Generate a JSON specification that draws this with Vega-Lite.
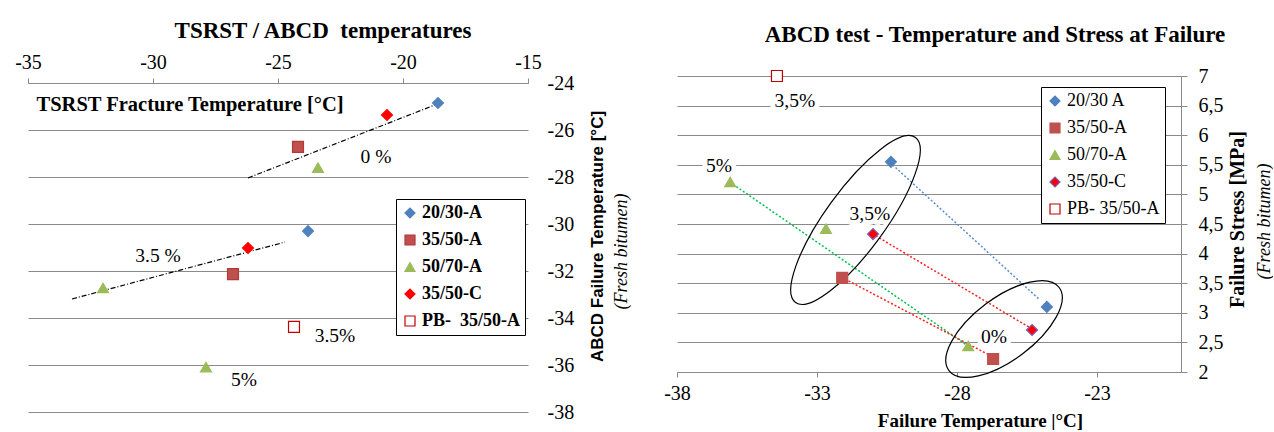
{
  "$schema": "https://vega.github.io/schema/vega-lite/v6.json",
  "padding": {"left": 14, "top": 20, "right": 0, "bottom": 0},
  "spacing": 33,
  "config": {
    "view": {"stroke": null},
    "axis": {"domainColor": "#8a8a8a", "gridColor": "#8a8a8a", "tickColor": "#8a8a8a", "labelColor": "black", "titleColor": "black", "labelFont": "Liberation Serif", "labelFontSize": 20, "labelOverlap": false, "labelFlush": false},
    "legend": {"strokeColor": "black", "fillColor": "white", "padding": 5, "labelFont": "Liberation Serif", "labelFontSize": 18, "labelColor": "black", "labelLimit": 0, "rowPadding": 9, "symbolSize": 100, "symbolStrokeWidth": 1.2, "labelOffset": 3}
  },
  "resolve": {"scale": {"fill": "independent", "stroke": "independent", "shape": "independent", "color": "independent"}, "legend": {"fill": "independent", "stroke": "independent", "shape": "independent", "color": "independent"}},
  "datasets": {
    "ptsL": [
      {"series": "20/30-A", "x": -18.6, "y": -24.85},
      {"series": "20/30-A", "x": -23.8, "y": -30.3},
      {"series": "35/50-A", "x": -24.2, "y": -26.72},
      {"series": "35/50-A", "x": -26.8, "y": -32.13},
      {"series": "50/70-A", "x": -23.4, "y": -27.6},
      {"series": "50/70-A", "x": -32.0, "y": -32.72},
      {"series": "50/70-A", "x": -27.88, "y": -36.09},
      {"series": "35/50-C", "x": -20.64, "y": -25.36},
      {"series": "35/50-C", "x": -26.2, "y": -31.02},
      {"series": "PB-\u00a0 35/50-A", "x": -24.36, "y": -34.38}
    ],
    "trendL": [
      {"trend": "0 %", "x": -26.2, "y": -28.04},
      {"trend": "0 %", "x": -18.52, "y": -24.85},
      {"trend": "3.5 %", "x": -33.24, "y": -33.19},
      {"trend": "3.5 %", "x": -24.72, "y": -30.77}
    ],
    "labelsL": [
      {"label": "0 %", "x": -21.08, "y": -27.15},
      {"label": "3.5 %", "x": -29.8, "y": -31.36},
      {"label": "3.5%", "x": -22.72, "y": -34.77},
      {"label": "5%", "x": -26.36, "y": -36.64}
    ],
    "ptsR": [
      {"series": "20/30 A", "x": -30.36, "y": 5.55},
      {"series": "20/30 A", "x": -24.79, "y": 3.1},
      {"series": "35/50-A", "x": -32.1, "y": 3.59},
      {"series": "35/50-A", "x": -26.71, "y": 2.22},
      {"series": "50/70-A", "x": -36.1, "y": 5.21},
      {"series": "50/70-A", "x": -32.68, "y": 4.42},
      {"series": "50/70-A", "x": -27.6, "y": 2.44},
      {"series": "35/50-C", "x": -31.0, "y": 4.33},
      {"series": "35/50-C", "x": -25.32, "y": 2.71},
      {"series": "PB- 35/50-A", "x": -34.43, "y": 7.0}
    ],
    "linesR": [
      {"pair": "20/30 A", "x": -30.3, "y": 5.5},
      {"pair": "20/30 A", "x": -25.07, "y": 3.23},
      {"pair": "50/70-A", "x": -36.0, "y": 5.17},
      {"pair": "50/70-A", "x": -27.7, "y": 2.47},
      {"pair": "35/50-A", "x": -32.0, "y": 3.57},
      {"pair": "35/50-A", "x": -26.9, "y": 2.3},
      {"pair": "35/50-C", "x": -30.9, "y": 4.3},
      {"pair": "35/50-C", "x": -25.4, "y": 2.75}
    ],
    "labelsR": [
      {"label": "3,5%", "x": -33.79, "y": 6.58},
      {"label": "5%", "x": -36.5, "y": 5.48},
      {"label": "3,5%", "x": -31.11, "y": 4.67},
      {"label": "0%", "x": -26.68, "y": 2.59}
    ],
    "ell1": [{"group": "3,5%", "x": -31.625, "y": 4.568}],
    "ell2": [{"group": "0%", "x": -26.32, "y": 2.726}]
  },
  "hconcat": [
    {
      "width": 500,
      "height": 336,
      "title": {"text": "TSRST / ABCD\u00a0 temperatures", "font": "Liberation Serif", "fontSize": 23, "fontWeight": "bold", "color": "black", "anchor": "middle", "dx": 45, "offset": 9},
      "layer": [
        {
          "data": {"name": "trendL"},
          "mark": {"type": "line", "color": "black", "strokeWidth": 1.2, "strokeDash": [5, 2, 1, 2]},
          "encoding": {
            "x": {"field": "x", "type": "quantitative", "scale": {"domain": [-35, -15], "zero": false, "nice": false},
              "axis": {"orient": "top", "offset": -7, "values": [-35, -30, -25, -20, -15], "labelExpr": "'' + datum.value", "labelFont": "Liberation Serif", "labelFontSize": 20, "grid": false, "tickSize": 5, "labelPadding": 6,
                "title": "TSRST Fracture Temperature [°C]", "titleFont": "Liberation Serif", "titleFontSize": 20.5, "titleFontWeight": "bold", "titleAlign": "left", "titleBaseline": "alphabetic", "titleX": 8, "titleY": 27}},
            "y": {"field": "y", "type": "quantitative", "scale": {"domain": [-38, -23.702], "zero": false, "nice": false},
              "axis": {"orient": "right", "title": "(Fresh bitumen)", "titleFont": "Liberation Serif", "titleFontStyle": "italic", "titleFontWeight": "normal", "titleFontSize": 18, "titleAngle": 270, "titleX": 93, "titleY": 175, "titleAlign": "center", "titleBaseline": "middle", "labels": false, "ticks": false, "domain": false, "grid": false}},
            "detail": {"field": "trend"}
          }
        },
        {
          "encoding": {
            "x": {"field": "x", "type": "quantitative", "scale": {"domain": [-35, -15], "zero": false, "nice": false},
              "axis": {"orient": "top", "offset": -7, "values": [-35, -30, -25, -20, -15], "labelExpr": "'' + datum.value", "labelFont": "Liberation Serif", "labelFontSize": 20, "grid": false, "tickSize": 5, "labelPadding": 6,
                "title": "TSRST Fracture Temperature [°C]", "titleFont": "Liberation Serif", "titleFontSize": 20.5, "titleFontWeight": "bold", "titleAlign": "left", "titleBaseline": "alphabetic", "titleX": 8, "titleY": 27}},
            "y": {"field": "y", "type": "quantitative", "scale": {"domain": [-38, -23.702], "zero": false, "nice": false},
              "axis": {"orient": "right", "values": [-38, -36, -34, -32, -30, -28, -26, -24], "labelExpr": "'' + datum.value", "labelFont": "Liberation Serif", "labelFontSize": 20, "grid": true, "ticks": false, "domain": false, "labelPadding": 19,
                "title": "ABCD Failure Temperature [°C]", "titleFont": "Liberation Sans", "titleFontWeight": "bold", "titleFontSize": 17, "titleAngle": 270, "titleX": 69, "titleY": 160, "titleAlign": "center", "titleBaseline": "middle"}}
          },
          "layer": [
            {
              "mark": {"type": "rule", "color": "#8a8a8a", "strokeWidth": 1},
              "encoding": {"x": {"datum": -15}, "y": {"datum": -38}, "y2": {"datum": -24}}
            },
            {
              "data": {"name": "labelsL"},
              "mark": {"type": "text", "font": "Liberation Serif", "fontSize": 19.5, "fill": "white", "stroke": "white", "strokeWidth": 10, "strokeJoin": "round"},
              "encoding": {"text": {"field": "label"}}
            },
            {
              "data": {"name": "ptsL"},
              "mark": {"type": "point", "filled": true, "size": 120, "opacity": 1, "strokeWidth": 1.2},
              "encoding": {
                "fill": {"field": "series", "type": "nominal", "scale": {"domain": ["20/30-A", "35/50-A", "50/70-A", "35/50-C", "PB-\u00a0 35/50-A"], "range": ["#4F81BD", "#C0504D", "#9BBB59", "#FF0000", "#FFFFFF"]},
                  "legend": {"title": null, "orient": "none", "legendX": 368, "legendY": 123, "labelFontWeight": "bold"}},
                "stroke": {"field": "series", "type": "nominal", "scale": {"domain": ["20/30-A", "35/50-A", "50/70-A", "35/50-C", "PB-\u00a0 35/50-A"], "range": ["#4F81BD", "#B03A37", "#9BBB59", "#FF0000", "#C00000"]}},
                "shape": {"field": "series", "type": "nominal", "scale": {"domain": ["20/30-A", "35/50-A", "50/70-A", "35/50-C", "PB-\u00a0 35/50-A"], "range": ["diamond", "square", "triangle-up", "diamond", "square"]}}
              }
            },
            {
              "data": {"name": "labelsL"},
              "mark": {"type": "text", "font": "Liberation Serif", "fontSize": 19.5, "color": "black"},
              "encoding": {"text": {"field": "label"}}
            }
          ]
        }
      ],
      "resolve": {"scale": {"y": "independent"}}
    },
    {
      "width": 504,
      "height": 296,
      "title": {"text": "ABCD test - Temperature and Stress at Failure", "font": "Liberation Serif", "fontSize": 23, "fontWeight": "bold", "color": "black", "anchor": "middle", "dx": 66, "offset": 19},
      "layer": [
        {
          "data": {"name": "linesR"},
          "mark": {"type": "line", "strokeWidth": 1.5, "strokeDash": [2, 2]},
          "encoding": {
            "x": {"field": "x", "type": "quantitative", "scale": {"domain": [-38, -20], "zero": false, "nice": false},
              "axis": {"orient": "bottom", "values": [-38, -33, -28, -23], "labelExpr": "'' + datum.value", "labelFont": "Liberation Serif", "labelFontSize": 20, "grid": false, "tickSize": 5, "labelPadding": 6,
                "title": "Failure Temperature |°C]", "titleFont": "Liberation Serif", "titleFontSize": 19, "titleFontWeight": "bold", "titleAlign": "center", "titleBaseline": "alphabetic", "titleX": 303, "titleY": 54}},
            "y": {"field": "y", "type": "quantitative", "scale": {"domain": [2, 7], "zero": false, "nice": false},
              "axis": {"orient": "right", "title": "(Fresh bitumen)", "titleFont": "Liberation Serif", "titleFontStyle": "italic", "titleFontWeight": "normal", "titleFontSize": 18, "titleAngle": 270, "titleX": 83, "titleY": 145, "titleAlign": "center", "titleBaseline": "middle", "labels": false, "ticks": false, "domain": false, "grid": false}},
            "color": {"field": "pair", "type": "nominal", "scale": {"domain": ["20/30 A", "50/70-A", "35/50-A", "35/50-C"], "range": ["#5B8BD0", "#00C050", "#FF2020", "#FF2020"]}, "legend": null},
            "detail": {"field": "pair"}
          }
        },
        {
          "encoding": {
            "x": {"field": "x", "type": "quantitative", "scale": {"domain": [-38, -20], "zero": false, "nice": false},
              "axis": {"orient": "bottom", "values": [-38, -33, -28, -23], "labelExpr": "'' + datum.value", "labelFont": "Liberation Serif", "labelFontSize": 20, "grid": false, "tickSize": 5, "labelPadding": 6,
                "title": "Failure Temperature |°C]", "titleFont": "Liberation Serif", "titleFontSize": 19, "titleFontWeight": "bold", "titleAlign": "center", "titleBaseline": "alphabetic", "titleX": 303, "titleY": 54}},
            "y": {"field": "y", "type": "quantitative", "scale": {"domain": [2, 7], "zero": false, "nice": false},
              "axis": {"orient": "right", "values": [2, 2.5, 3, 3.5, 4, 4.5, 5, 5.5, 6, 6.5, 7], "labelExpr": "replace(format(datum.value, '~g'), '.', ',')", "labelFont": "Liberation Serif", "labelFontSize": 20, "grid": true, "ticks": true, "tickSize": 6, "domain": true, "labelPadding": 11,
                "title": "Failure Stress [MPa]", "titleFont": "Liberation Serif", "titleFontWeight": "bold", "titleFontSize": 20, "titleAngle": 270, "titleX": 56, "titleY": 143, "titleAlign": "center", "titleBaseline": "middle"}}
          },
          "layer": [
            {
              "data": {"name": "labelsR"},
              "mark": {"type": "text", "font": "Liberation Serif", "fontSize": 19.5, "fill": "white", "stroke": "white", "strokeWidth": 10, "strokeJoin": "round"},
              "encoding": {"text": {"field": "label"}}
            },
            {
              "data": {"name": "ell1"},
              "mark": {"type": "point", "filled": false, "opacity": 1, "stroke": "black", "strokeWidth": 1.2, "size": 41616, "angle": 306,
                "shape": "M 1 0 C 1 0.1624 0.5523 0.294 0 0.294 C -0.5523 0.294 -1 0.1624 -1 0 C -1 -0.1624 -0.5523 -0.294 0 -0.294 C 0.5523 -0.294 1 -0.1624 1 0 Z"}
            },
            {
              "data": {"name": "ell2"},
              "mark": {"type": "point", "filled": false, "opacity": 1, "stroke": "black", "strokeWidth": 1.2, "size": 19044, "angle": 323,
                "shape": "M 1 0 C 1 0.248 0.5523 0.449 0 0.449 C -0.5523 0.449 -1 0.248 -1 0 C -1 -0.248 -0.5523 -0.449 0 -0.449 C 0.5523 -0.449 1 -0.248 1 0 Z"}
            },
            {
              "data": {"name": "ptsR"},
              "mark": {"type": "point", "filled": true, "size": 120, "opacity": 1, "strokeWidth": 1.2},
              "encoding": {
                "fill": {"field": "series", "type": "nominal", "scale": {"domain": ["20/30 A", "35/50-A", "50/70-A", "35/50-C", "PB- 35/50-A"], "range": ["#4F81BD", "#C0504D", "#9BBB59", "#FF0000", "#FFFFFF"]},
                  "legend": {"title": null, "orient": "none", "legendX": 364, "legendY": 11}},
                "stroke": {"field": "series", "type": "nominal", "scale": {"domain": ["20/30 A", "35/50-A", "50/70-A", "35/50-C", "PB- 35/50-A"], "range": ["#4F81BD", "#C0504D", "#9BBB59", "#7A5CA8", "#C00000"]}},
                "shape": {"field": "series", "type": "nominal", "scale": {"domain": ["20/30 A", "35/50-A", "50/70-A", "35/50-C", "PB- 35/50-A"], "range": ["diamond", "square", "triangle-up", "diamond", "square"]}}
              }
            },
            {
              "data": {"name": "labelsR"},
              "mark": {"type": "text", "font": "Liberation Serif", "fontSize": 19.5, "color": "black"},
              "encoding": {"text": {"field": "label"}}
            }
          ]
        }
      ],
      "resolve": {"scale": {"y": "independent"}}
    }
  ]
}
